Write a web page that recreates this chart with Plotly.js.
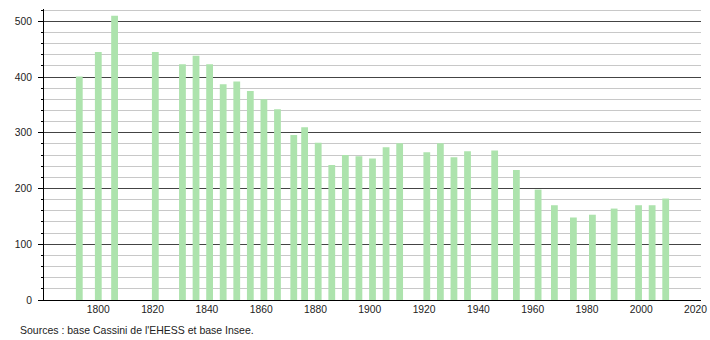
<!DOCTYPE html>
<html>
<head>
<meta charset="utf-8">
<script src="https://cdn.plot.ly/plotly-3.0.1.min.js"></script>
<style>html,body{margin:0;padding:0;background:#fff;}#chart{width:710px;height:340px;}</style>
</head>
<body>
<div id="chart"></div>
<script>
const years = [1793, 1800, 1806, 1821, 1831, 1836, 1841, 1846, 1851, 1856, 1861, 1866, 1872, 1876, 1881, 1886, 1891, 1896, 1901, 1906, 1911, 1921, 1926, 1931, 1936, 1946, 1954, 1962, 1968, 1975, 1982, 1990, 1999, 2004, 2009];
const population = [401, 445, 510, 445, 423, 438, 423, 387, 392, 375, 360, 342, 296, 310, 282, 242, 260, 258, 254, 274, 281, 265, 281, 256, 267, 268, 233, 198, 170, 148, 153, 164, 170, 170, 182];
const xTicks = [1800, 1820, 1840, 1860, 1880, 1900, 1920, 1940, 1960, 1980, 2000, 2020];
const sourceText = "Sources : base Cassini de l'EHESS et base Insee.";

const trace = {
  type: 'bar',
  x: years,
  y: population,
  width: 2.5,
  marker: {color: '#ade3ad', line: {width: 0}},
  hoverinfo: 'x+y'
};

const layout = {
  width: 710,
  height: 340,
  margin: {l: 44, r: 9, t: 9, b: 40},
  paper_bgcolor: '#fff',
  plot_bgcolor: '#fff',
  showlegend: false,
  font: {family: 'Liberation Sans, Arial, sans-serif', size: 10, color: '#222'},
  xaxis: {
    range: [1780, 2022],
    tickmode: 'array',
    tickvals: xTicks,
    ticktext: xTicks.map(String),
    showgrid: false,
    zeroline: false,
    showline: true,
    linecolor: '#000',
    linewidth: 1,
    ticks: '',
    tickfont: {size: 10.3, color: '#222'}
  },
  yaxis: {
    range: [0, 522],
    dtick: 100,
    tick0: 0,
    showgrid: true,
    gridcolor: '#444',
    gridwidth: 1,
    zeroline: false,
    showline: true,
    linecolor: '#000',
    linewidth: 1,
    ticks: 'outside',
    ticklen: 5,
    tickcolor: '#000',
    tickfont: {size: 10.3, color: '#222'},
    ticklabelstandoff: 4,
    minor: {dtick: 20, showgrid: true, gridcolor: '#c8c8c8', gridwidth: 1, ticks: 'outside', ticklen: 2, tickcolor: '#000'}
  },
  annotations: [{
    text: sourceText,
    xref: 'paper', yref: 'paper',
    x: 0, y: 0,
    xanchor: 'left', yanchor: 'top',
    xshift: -26,
    yshift: -22,
    showarrow: false,
    font: {size: 10.5, color: '#222'}
  }]
};

Plotly.newPlot('chart', [trace], layout, {displayModeBar: false, staticPlot: true});
</script>
</body>
</html>
